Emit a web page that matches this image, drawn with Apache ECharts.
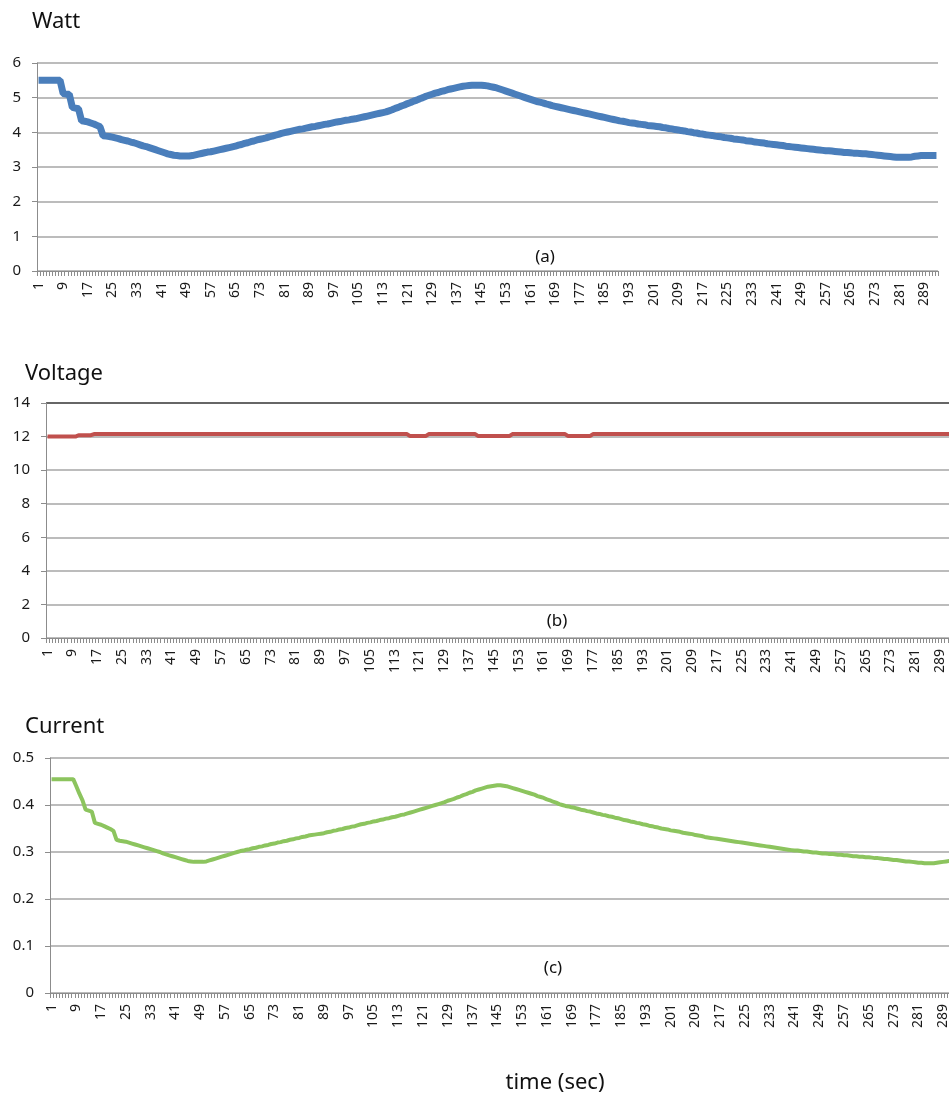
<!DOCTYPE html>
<html><head><meta charset="utf-8">
<script src="https://cdn.jsdelivr.net/npm/echarts@6/dist/echarts.min.js"></script>
<style>html,body{margin:0;padding:0;background:#fff}#c{width:949px;height:1096px}</style>
</head><body><div id="c"></div>
<script>
const watt = [
5.50,5.50,5.50,5.50,5.50,5.50,5.50,5.50,5.12,5.10,
5.10,4.72,4.70,4.68,4.33,4.32,4.30,4.27,4.24,4.20,
4.16,3.90,3.89,3.88,3.86,3.84,3.82,3.79,3.77,3.75,
3.72,3.70,3.67,3.64,3.61,3.59,3.56,3.53,3.50,3.47,
3.44,3.41,3.38,3.36,3.34,3.33,3.32,3.32,3.32,3.32,
3.33,3.35,3.37,3.39,3.41,3.43,3.44,3.46,3.48,3.50,
3.52,3.54,3.56,3.58,3.60,3.63,3.65,3.68,3.70,3.73,
3.75,3.78,3.80,3.82,3.84,3.87,3.89,3.92,3.94,3.97,
3.99,4.01,4.03,4.05,4.07,4.09,4.10,4.12,4.14,4.16,
4.17,4.19,4.21,4.23,4.24,4.26,4.28,4.30,4.31,4.33,
4.35,4.36,4.38,4.39,4.41,4.43,4.45,4.47,4.49,4.51,
4.53,4.55,4.57,4.59,4.62,4.65,4.69,4.72,4.76,4.79,
4.83,4.86,4.90,4.93,4.97,5.00,5.04,5.07,5.10,5.13,
5.15,5.18,5.20,5.23,5.25,5.27,5.29,5.31,5.33,5.34,
5.35,5.36,5.36,5.36,5.36,5.35,5.34,5.32,5.30,5.28,
5.25,5.22,5.19,5.16,5.13,5.10,5.07,5.04,5.01,4.98,
4.95,4.92,4.89,4.87,4.85,4.82,4.80,4.77,4.75,4.73,
4.71,4.69,4.67,4.65,4.63,4.61,4.59,4.57,4.55,4.53,
4.51,4.49,4.47,4.45,4.43,4.41,4.39,4.37,4.35,4.33,
4.32,4.30,4.28,4.27,4.26,4.24,4.23,4.22,4.20,4.19,
4.18,4.17,4.16,4.14,4.13,4.11,4.10,4.08,4.07,4.05,
4.04,4.02,4.01,3.99,3.98,3.96,3.95,3.93,3.92,3.91,
3.89,3.88,3.87,3.85,3.84,3.83,3.81,3.80,3.79,3.78,
3.76,3.75,3.74,3.72,3.71,3.70,3.69,3.67,3.66,3.65,
3.64,3.63,3.62,3.60,3.59,3.58,3.57,3.56,3.55,3.54,
3.53,3.52,3.51,3.50,3.49,3.48,3.47,3.47,3.46,3.45,
3.44,3.43,3.42,3.42,3.41,3.40,3.40,3.39,3.38,3.38,
3.37,3.36,3.35,3.34,3.33,3.32,3.31,3.30,3.29,3.28,
3.28,3.28,3.28,3.28,3.29,3.31,3.32,3.33,3.33,3.33,
3.33,3.33,3.33
];
const voltage = [
12.00,12.00,12.00,12.00,12.00,12.00,12.00,12.00,12.00,12.00,
12.08,12.08,12.08,12.08,12.08,12.15,12.15,12.15,12.15,12.15,
12.15,12.15,12.15,12.15,12.15,12.15,12.15,12.15,12.15,12.15,
12.15,12.15,12.15,12.15,12.15,12.15,12.15,12.15,12.15,12.15,
12.15,12.15,12.15,12.15,12.15,12.15,12.15,12.15,12.15,12.15,
12.15,12.15,12.15,12.15,12.15,12.15,12.15,12.15,12.15,12.15,
12.15,12.15,12.15,12.15,12.15,12.15,12.15,12.15,12.15,12.15,
12.15,12.15,12.15,12.15,12.15,12.15,12.15,12.15,12.15,12.15,
12.15,12.15,12.15,12.15,12.15,12.15,12.15,12.15,12.15,12.15,
12.15,12.15,12.15,12.15,12.15,12.15,12.15,12.15,12.15,12.15,
12.15,12.15,12.15,12.15,12.15,12.15,12.15,12.15,12.15,12.15,
12.15,12.15,12.15,12.15,12.15,12.15,12.15,12.03,12.03,12.03,
12.03,12.03,12.03,12.15,12.15,12.15,12.15,12.15,12.15,12.15,
12.15,12.15,12.15,12.15,12.15,12.15,12.15,12.15,12.15,12.03,
12.03,12.03,12.03,12.03,12.03,12.03,12.03,12.03,12.03,12.03,
12.15,12.15,12.15,12.15,12.15,12.15,12.15,12.15,12.15,12.15,
12.15,12.15,12.15,12.15,12.15,12.15,12.15,12.15,12.03,12.03,
12.03,12.03,12.03,12.03,12.03,12.03,12.15,12.15,12.15,12.15,
12.15,12.15,12.15,12.15,12.15,12.15,12.15,12.15,12.15,12.15,
12.15,12.15,12.15,12.15,12.15,12.15,12.15,12.15,12.15,12.15,
12.15,12.15,12.15,12.15,12.15,12.15,12.15,12.15,12.15,12.15,
12.15,12.15,12.15,12.15,12.15,12.15,12.15,12.15,12.15,12.15,
12.15,12.15,12.15,12.15,12.15,12.15,12.15,12.15,12.15,12.15,
12.15,12.15,12.15,12.15,12.15,12.15,12.15,12.15,12.15,12.15,
12.15,12.15,12.15,12.15,12.15,12.15,12.15,12.15,12.15,12.15,
12.15,12.15,12.15,12.15,12.15,12.15,12.15,12.15,12.15,12.15,
12.15,12.15,12.15,12.15,12.15,12.15,12.15,12.15,12.15,12.15,
12.15,12.15,12.15,12.15,12.15,12.15,12.15,12.15,12.15,12.15,
12.15,12.15,12.15,12.15,12.15,12.15,12.15,12.15,12.15,12.15,
12.15,12.15,12.15
];
const current = [
0.455,0.455,0.455,0.455,0.455,0.455,0.455,0.455,0.440,0.424,
0.410,0.390,0.388,0.386,0.362,0.360,0.358,0.355,0.352,0.349,
0.345,0.326,0.324,0.323,0.322,0.320,0.318,0.316,0.314,0.312,
0.310,0.308,0.306,0.304,0.302,0.300,0.297,0.295,0.293,0.291,
0.289,0.287,0.285,0.283,0.281,0.280,0.279,0.279,0.279,0.279,
0.280,0.282,0.284,0.286,0.288,0.290,0.292,0.294,0.296,0.298,
0.300,0.302,0.303,0.305,0.306,0.308,0.309,0.311,0.312,0.314,
0.315,0.317,0.318,0.320,0.321,0.323,0.324,0.326,0.327,0.329,
0.330,0.332,0.333,0.335,0.336,0.337,0.338,0.339,0.340,0.342,
0.343,0.345,0.346,0.348,0.349,0.351,0.352,0.354,0.355,0.357,
0.359,0.360,0.362,0.363,0.365,0.366,0.368,0.369,0.371,0.372,
0.374,0.375,0.377,0.379,0.380,0.382,0.384,0.386,0.388,0.390,
0.392,0.394,0.396,0.398,0.400,0.402,0.404,0.406,0.409,0.411,
0.413,0.416,0.418,0.421,0.423,0.426,0.428,0.431,0.433,0.435,
0.437,0.439,0.440,0.441,0.442,0.442,0.441,0.440,0.438,0.436,
0.434,0.432,0.430,0.428,0.426,0.424,0.422,0.419,0.417,0.415,
0.412,0.410,0.407,0.405,0.402,0.400,0.398,0.397,0.395,0.394,
0.392,0.390,0.389,0.387,0.386,0.384,0.382,0.381,0.379,0.378,
0.376,0.375,0.373,0.372,0.370,0.368,0.367,0.365,0.364,0.362,
0.361,0.359,0.358,0.356,0.355,0.353,0.352,0.350,0.349,0.348,
0.346,0.345,0.344,0.343,0.341,0.340,0.339,0.338,0.336,0.335,
0.334,0.332,0.331,0.330,0.329,0.328,0.327,0.326,0.325,0.324,
0.323,0.322,0.321,0.320,0.319,0.318,0.317,0.316,0.315,0.314,
0.313,0.312,0.311,0.310,0.309,0.308,0.307,0.306,0.305,0.304,
0.303,0.303,0.302,0.301,0.301,0.300,0.299,0.299,0.298,0.297,
0.297,0.296,0.296,0.295,0.294,0.294,0.293,0.293,0.292,0.291,
0.291,0.290,0.290,0.289,0.289,0.288,0.287,0.287,0.286,0.285,
0.285,0.284,0.283,0.283,0.282,0.281,0.280,0.280,0.279,0.278,
0.277,0.277,0.276,0.276,0.276,0.276,0.277,0.278,0.279,0.280,
0.281,0.281,0.281
];
const categories = watt.map((_, i) => String(i + 1));
const panelTitles = ['Watt', 'Voltage', 'Current'];
const panelTags = ['(a)', '(b)', '(c)'];
const xTitle = 'time (sec)';

const FONT = 'Noto Sans';
const grids = [
  {left: 37, top: 63, width: 901, height: 208},
  {left: 46, top: 403, width: 908, height: 235},
  {left: 50, top: 758, width: 907, height: 235}
];
const yRanges = [
  {min: 0, max: 6, interval: 1},
  {min: 0, max: 14, interval: 2},
  {min: 0, max: 0.5, interval: 0.1}
];
const colors = ['#4a7ebb', '#c0504d', '#8cc45e'];
const widths = [7, 4, 4];
const seriesData = [watt, voltage, current];

const chart = echarts.init(document.getElementById('c'), null, {renderer: 'canvas'});
chart.setOption({
  animation: false,
  backgroundColor: '#fff',
  textStyle: {fontFamily: FONT},
  grid: grids.map(g => Object.assign({outerBoundsMode: 'none', containLabel: false}, g)),
  xAxis: grids.map((g, k) => ({
    type: 'category', gridIndex: k, data: categories, boundaryGap: true,
    axisLine: {show: true, lineStyle: {color: '#8c8c8c', width: 1}},
    axisTick: {show: true, interval: 0, length: 5, lineStyle: {color: '#8c8c8c', width: 1}},
    axisLabel: {interval: 7, rotate: 90, fontSize: 14, color: '#1a1a1a', margin: 11, fontFamily: FONT},
    splitLine: {show: false}
  })),
  yAxis: yRanges.map((r, k) => ({
    type: 'value', gridIndex: k, min: r.min, max: r.max, interval: r.interval,
    axisLine: {show: true, lineStyle: {color: '#8c8c8c', width: 1}},
    axisTick: {show: true, length: 5, lineStyle: {color: '#8c8c8c'}},
    axisLabel: {fontSize: 15, color: '#1a1a1a', margin: 16, fontFamily: FONT},
    splitLine: {show: true, lineStyle: {
      color: k === 1 ? ['#a6a6a6','#a6a6a6','#a6a6a6','#a6a6a6','#a6a6a6','#a6a6a6','#a6a6a6','#333333'] : '#a6a6a6',
      width: 1.5}}
  })),
  series: seriesData.map((d, k) => ({
    type: 'line', xAxisIndex: k, yAxisIndex: k, data: d,
    symbol: 'none', lineStyle: {color: colors[k], width: widths[k]},
    itemStyle: {color: colors[k]}
  })),
  graphic: [
    {type: 'text', x: 32, y: 22, style: {text: panelTitles[0], font: '22px ' + FONT, fill: '#111', verticalAlign: 'middle'}},
    {type: 'text', x: 25, y: 374, style: {text: panelTitles[1], font: '22px ' + FONT, fill: '#111', verticalAlign: 'middle'}},
    {type: 'text', x: 25, y: 727, style: {text: panelTitles[2], font: '22px ' + FONT, fill: '#111', verticalAlign: 'middle'}},
    {type: 'text', x: 545, y: 257, style: {text: panelTags[0], font: '17px ' + FONT, fill: '#111', align: 'center', verticalAlign: 'middle'}},
    {type: 'text', x: 557, y: 621, style: {text: panelTags[1], font: '17px ' + FONT, fill: '#111', align: 'center', verticalAlign: 'middle'}},
    {type: 'text', x: 553, y: 968, style: {text: panelTags[2], font: '17px ' + FONT, fill: '#111', align: 'center', verticalAlign: 'middle'}},
    {type: 'text', x: 555, y: 1083, style: {text: xTitle, font: '22px ' + FONT, fill: '#111', align: 'center', verticalAlign: 'middle'}}
  ]
});
</script>
</body></html>
